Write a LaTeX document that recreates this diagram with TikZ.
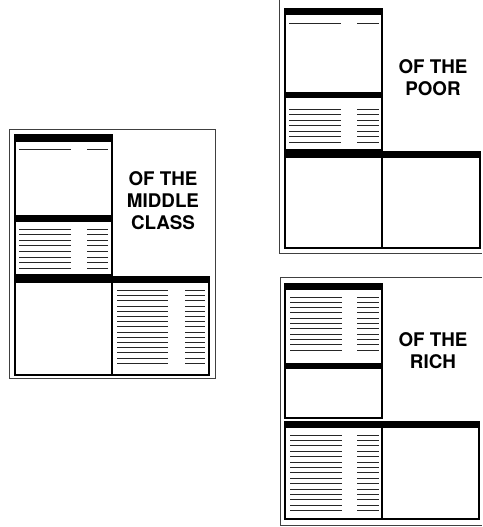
\documentclass[tikz,border=0pt]{standalone}
\usepackage{fontspec}
\setmainfont{TeX Gyre Heros}
\begin{document}
\begin{tikzpicture}[x=1pt,y=-1pt,
  frame/.style={draw=black!75,line width=0.9pt},
  subbox/.style={draw=black,line width=1.3pt},
  bar/.style={fill=black},
  txt/.style={draw=black!85,line width=0.9pt},
  label/.style={font=\bfseries\fontsize{18.8}{22}\selectfont,align=center,inner sep=0pt}]
\useasboundingbox (0,0) rectangle (482,527);
% ===== MIDDLE CLASS =====
\draw[frame] (9,129) rectangle (215,378);
\draw[subbox] (15,135) rectangle (112,275);
\fill[bar] (15,135) rectangle (112,142);
\fill[bar] (15,215) rectangle (112,222);
\draw[txt] (19,149) -- (71,149) (87,149) -- (108,149);
\foreach \i in {0,...,7}{
  \draw[txt] (19,229+\i*5.6) -- (71,229+\i*5.6) (87,229+\i*5.6) -- (108,229+\i*5.6);
}
\draw[subbox] (15,277) rectangle (209,375);
\fill[bar] (15,277) rectangle (209,283);
\draw[subbox] (112,283) -- (112,375);
\foreach \i in {0,...,14}{
  \draw[txt] (117,290.5+\i*5.2) -- (168,290.5+\i*5.2) (185,290.5+\i*5.2) -- (205,290.5+\i*5.2);
}
\node[label] (middle) at (163,201) {OF THE\\MIDDLE\\CLASS};
% ===== POOR =====
\draw[frame] (279,0) -- (279,253) -- (482,253);
\draw[subbox] (285,9) rectangle (382,150);
\fill[bar] (285,9) rectangle (382,15);
\fill[bar] (285,92) rectangle (382,98);
\draw[txt] (289,23) -- (341,23) (357,23) -- (379,23);
\foreach \i in {0,...,6}{
  \draw[txt] (289,109+\i*5.5) -- (341,109+\i*5.5) (357,109+\i*5.5) -- (379,109+\i*5.5);
}
\draw[subbox] (285,152) rectangle (480,248);
\fill[bar] (285,152) rectangle (480,158);
\draw[subbox] (382,158) -- (382,248);
\node[label] (poor) at (433,78) {OF THE\\POOR};
% ===== RICH =====
\draw[frame] (482,277) -- (280,277) -- (280,525) -- (482,525);
\draw[subbox] (285,284) rectangle (382,418);
\fill[bar] (285,284) rectangle (382,290);
\foreach \i in {0,...,10}{
  \draw[txt] (290,297+\i*5.3) -- (342,297+\i*5.3) (357,297+\i*5.3) -- (379,297+\i*5.3);
}
\fill[bar] (285,363) rectangle (382,369);
\draw[subbox] (285,422) rectangle (479,519);
\fill[bar] (285,422) rectangle (479,428);
\draw[subbox] (382,428) -- (382,519);
\foreach \i in {0,...,14}{
  \draw[txt] (290,435+\i*5.4) -- (342,435+\i*5.4) (357,435+\i*5.4) -- (379,435+\i*5.4);
}
\node[label] (rich) at (433,350.5) {OF THE\\RICH};
\end{tikzpicture}
\end{document}
